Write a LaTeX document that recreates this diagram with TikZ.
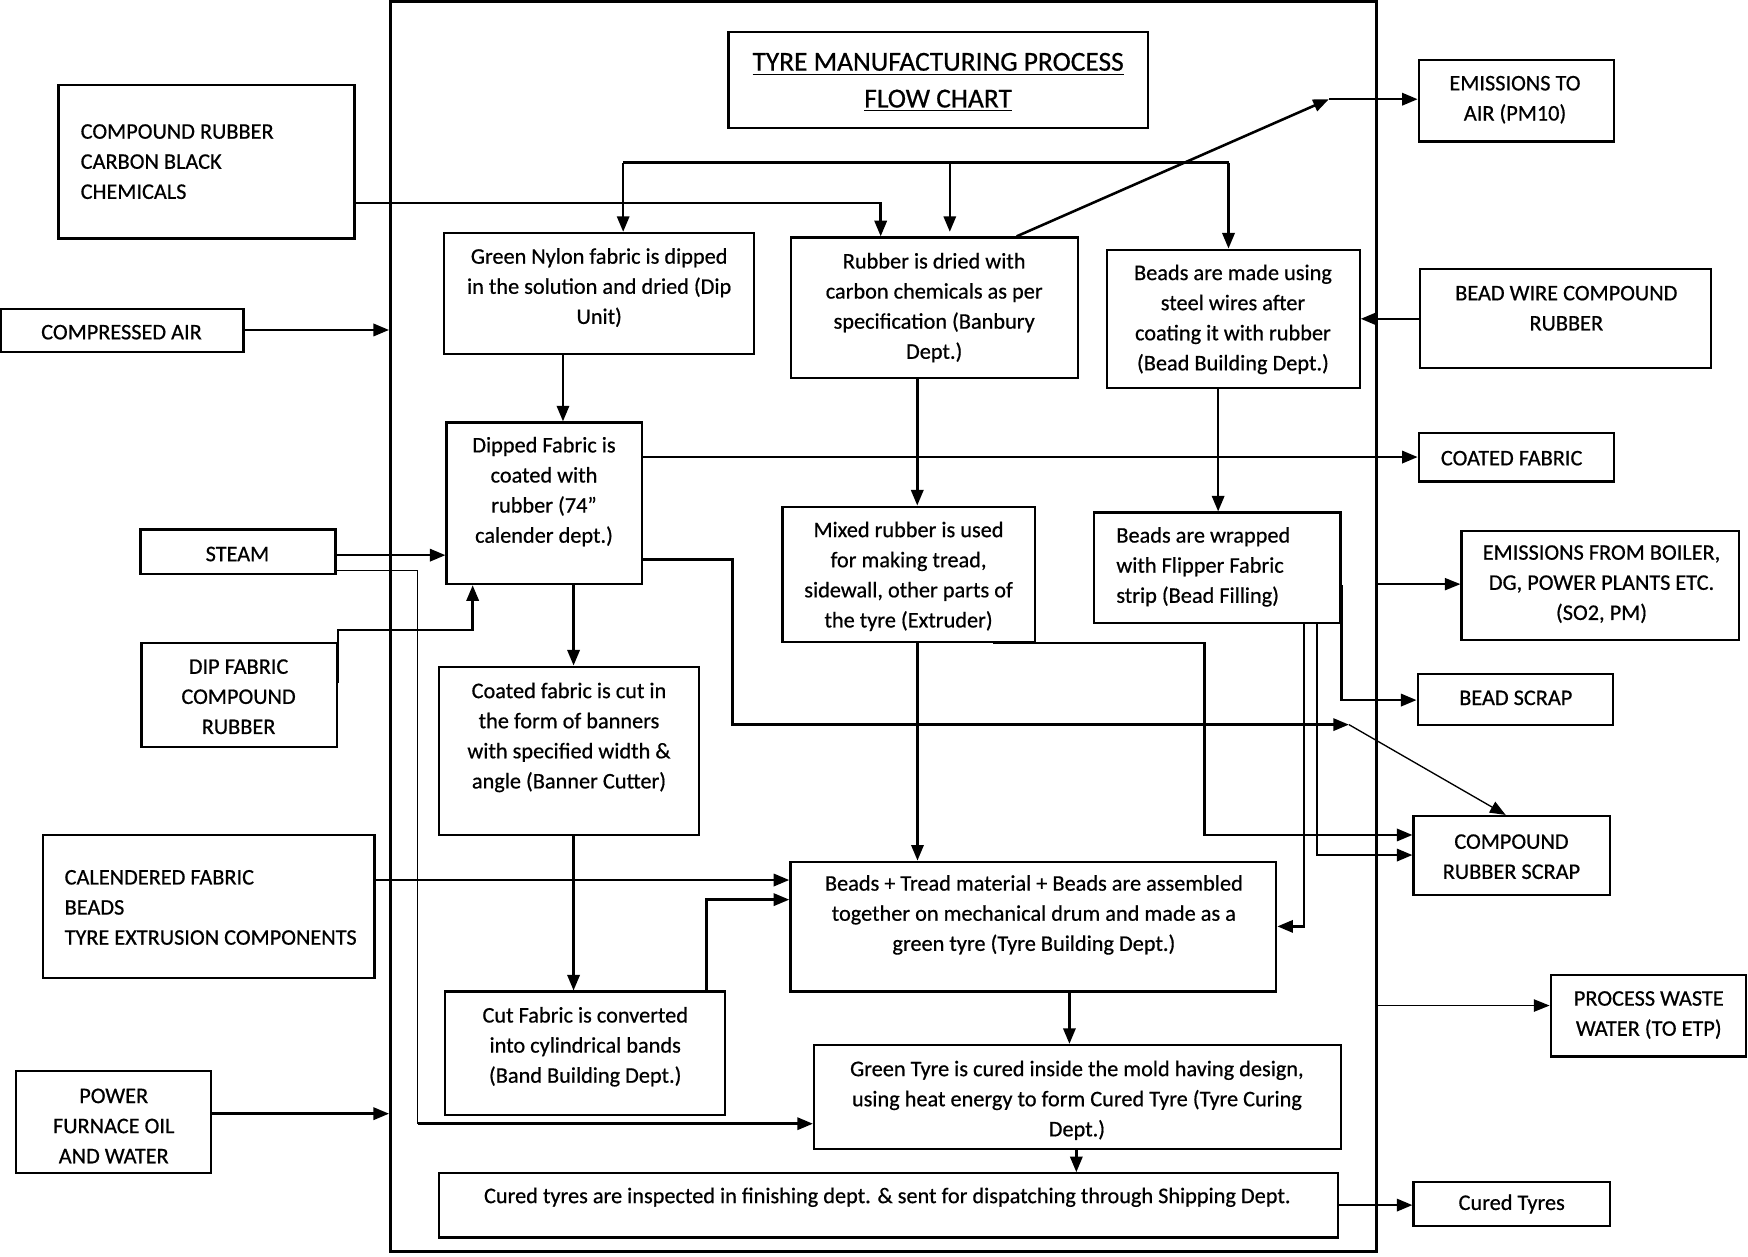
\documentclass[tikz,border=0pt]{standalone}
\usepackage{fontspec}
\setmainfont{Carlito}[FakeBold=0.6]
\usetikzlibrary{arrows.meta,fit}
\begin{document}
\begin{tikzpicture}[x=0.5pt,y=-0.5pt,
  bx/.style={draw=black,line width=1pt,inner sep=0pt},
  txt/.style={font=\fontsize{10}{13.5}\selectfont,align=center,inner sep=0pt},
  ttl/.style={font=\fontsize{12.3}{16.5}\selectfont,align=center,inner sep=0pt},
  con/.style={line width=1.15pt,-{Triangle[length=7pt,width=5.5pt]}},
  ln/.style={line width=1.15pt},
  thinln/.style={line width=0.6pt},
  thincon/.style={line width=0.6pt,-{Triangle[length=7pt,width=5.5pt]}}]
\useasboundingbox (0,0) rectangle (1568,1127);
% main frame and title
\node[bx,line width=1.5pt,fit={(350.5,1.5) (1234.5,1122.7)}] (frame) {};
\node[bx,fit={(653.4,29) (1029.6,115)}] (title) {};
\node[ttl] (titletext) at (841.5,74) {\underline{TYRE MANUFACTURING PROCESS}\\\underline{FLOW CHART}};
% left inputs
\node[bx,fit={(52.5,76) (318,214)}] (crub) {};
\node[txt,align=left,anchor=west] (crubt) at (72,145) {COMPOUND RUBBER\\CARBON BLACK\\CHEMICALS};
\node[bx,fit={(1,277) (218.5,316)}] (cair) {};
\node[txt] (cairt) at (109,298) {COMPRESSED AIR};
\node[bx,fit={(126,475) (301,515)}] (steam) {};
\node[txt] (steamt) at (213,497) {STEAM};
\node[bx,fit={(127,576.5) (302,670)}] (dipf) {};
\node[txt] (dipft) at (214,625) {DIP FABRIC\\COMPOUND\\RUBBER};
\node[bx,fit={(38.4,749) (336,877)}] (calf) {};
\node[txt,align=left,anchor=west] (calft) at (57.6,814) {CALENDERED FABRIC\\BEADS\\TYRE EXTRUSION COMPONENTS};
\node[bx,fit={(14.4,961) (189,1052.5)}] (power) {};
\node[txt] (powert) at (102,1010) {POWER\\FURNACE OIL\\AND WATER};
% right outputs
\node[bx,fit={(1272.7,54) (1447.7,127)}] (emair) {};
\node[txt] (emairt) at (1359,89.5) {EMISSIONS TO\\AIR (PM10)};
\node[bx,fit={(1274,241.6) (1535,330)}] (bwire) {};
\node[txt] (bwiret) at (1405,276.5) {BEAD WIRE COMPOUND\\RUBBER};
\node[bx,fit={(1272.7,388.7) (1447.7,432)}] (coatf) {};
\node[txt] (coatft) at (1356,411) {COATED FABRIC};
\node[bx,fit={(1311,476) (1560,574)}] (emboil) {};
\node[txt] (emboilt) at (1436.6,524) {EMISSIONS FROM BOILER,\\DG, POWER PLANTS ETC.\\(SO2, PM)};
\node[bx,fit={(1271.7,604.6) (1446.6,650)}] (bscrap) {};
\node[txt] (bscrapt) at (1359.7,626) {BEAD SCRAP};
\node[bx,fit={(1268,732) (1444,803)}] (crscrap) {};
\node[txt] (crscrapt) at (1355.8,768.5) {COMPOUND\\RUBBER SCRAP};
\node[bx,fit={(1391,874.6) (1566,947.8)}] (pww) {};
\node[txt] (pwwt) at (1479,910.5) {PROCESS WASTE\\WATER (TO ETP)};
\node[bx,fit={(1268,1060) (1444,1100)}] (cured) {};
\node[txt] (curedt) at (1356,1080) {Cured Tyres};
% process boxes
\node[bx,fit={(398.6,209) (676.4,317.5)}] (dipu) {};
\node[txt] (diput) at (537.5,258) {Green Nylon fabric is dipped\\in the solution and dried (Dip\\Unit)};
\node[bx,fit={(709.3,213) (966.9,339)}] (banb) {};
\node[txt] (banbt) at (838,276) {Rubber is dried with\\carbon chemicals as per\\specification (Banbury\\Dept.)};
\node[bx,fit={(993,224) (1219.6,348)}] (bbld) {};
\node[txt] (bbldt) at (1106,286.5) {Beads are made using\\steel wires after\\coating it with rubber\\(Bead Building Dept.)};
\node[bx,fit={(400.6,379) (575.9,524)}] (cal) {};
\node[txt] (calt) at (488,441) {Dipped Fabric is\\coated with\\rubber (74”\\calender dept.)};
\node[bx,fit={(702,454.5) (928.5,575.6)}] (extr) {};
\node[txt] (extrt) at (815,517) {Mixed rubber is used\\for making tread,\\sidewall, other parts of\\the tyre (Extruder)};
\node[bx,fit={(981.6,459.8) (1202.4,558.6)}] (bfill) {};
\node[txt,align=left,anchor=west] (bfillt) at (1001,508.5) {Beads are wrapped\\with Flipper Fabric\\strip (Bead Filling)};
\node[bx,fit={(393.8,598) (627,749)}] (bcut) {};
\node[txt] (bcutt) at (510.4,661.5) {Coated fabric is cut in\\the form of banners\\with specified width \&\\angle (Banner Cutter)};
\node[bx,fit={(709,773) (1144.8,889.5)}] (tbld) {};
\node[txt] (tbldt) at (927.4,820.7) {Beads + Tread material + Beads are assembled\\together on mechanical drum and made as a\\green tyre (Tyre Building Dept.)};
\node[bx,fit={(399,889.5) (650,1000)}] (band) {};
\node[txt] (bandt) at (525,939) {Cut Fabric is converted\\into cylindrical bands\\(Band Building Dept.)};
\node[bx,fit={(730.2,937.4) (1203,1031)}] (cure) {};
\node[txt] (curet) at (966,987) {Green Tyre is cured inside the mold having design,\\using heat energy to form Cured Tyre (Tyre Curing\\Dept.)};
\node[bx,fit={(393.8,1052.5) (1200.4,1110)}] (insp) {};
\node[txt] (inspt) at (796,1074) {Cured tyres are inspected in finishing dept. \& sent for dispatching through Shipping Dept.};
% free junction points
\coordinate (dl) at (559,146);
\coordinate (dm) at (852,146);
\coordinate (dr) at (1102,146);
\coordinate (ej) at (1192,89);
\coordinate (sj) at (1210,650);
% connectors
\draw[thinln] (crub.east |- 0,182) -- (frame.west |- 0,182);
\draw[con] (frame.west |- 0,182) -- (790,182) -- (790,0 |- banb.north);
\draw[ln] (dl) -- (dr);
\draw[con] (dl) -- (559,0 |- dipu.north);
\draw[con] (dm) -- (852,208);
\draw[con] (dr) -- (1102,0 |- bbld.north);
\draw[con] (912,0 |- banb.north) -- (ej);
\draw[con] (ej) -- (emair.west |- ej);
\draw[con] (bwire.west |- 0,286) -- (bbld.east |- 0,286);
\draw[con] (505,0 |- dipu.south) -- (505,0 |- cal.north);
\draw[con] (822.8,0 |- banb.south) -- (822.8,0 |- extr.north);
\draw[con] (1092.7,0 |- bbld.south) -- (1092.7,0 |- bfill.north);
\draw[con] (cair.east |- 0,296) -- (frame.west |- 0,296);
\draw[con] (cal.east |- 0,410) -- (coatf.west |- 0,410);
\draw[con] (steam.east |- 0,498) -- (cal.west |- 0,498);
\draw[thinln] (steam.east |- 0,512) -- (374.6,512) -- (374.6,1008);
\draw[con] (374.6,1008) -- (cure.west |- 0,1008);
\draw[con] (dipf.east |- 0,613) -- (dipf.east |- 0,565) -- (424,565) -- (424,0 |- cal.south);
\draw[con] (514.5,0 |- cal.south) -- (514.5,0 |- bcut.north);
\draw[con] (cal.east |- 0,502) -- (657,502) -- (657,650) -- (sj);
\draw[thincon] (sj) -- (1350.6,0 |- crscrap.north);
\draw[con] (823,0 |- extr.south) -- (823,0 |- tbld.north);
\draw[con] (890.7,0 |- extr.south) -- (1080.6,0 |- extr.south) -- (1080.6,749) -- (crscrap.west |- 0,749);
\draw[con] (bfill.east |- 0,525) -- (bfill.east |- 0,628) -- (bscrap.west |- 0,628);
\draw[con] (1181.5,0 |- bfill.south) -- (1181.5,767) -- (crscrap.west |- 0,767);
\draw[con] (1169.8,0 |- bfill.south) -- (1169.8,831) -- (tbld.east |- 0,831);
\draw[thincon] (frame.east |- 0,524) -- (emboil.west |- 0,524);
\draw[con] (calf.east |- 0,789.4) -- (tbld.west |- 0,789.4);
\draw[con] (633.5,0 |- band.north) -- (633.5,807) -- (tbld.west |- 0,807);
\draw[con] (514.5,0 |- bcut.south) -- (514.5,0 |- band.north);
\draw[con] (959.3,0 |- tbld.south) -- (959.3,0 |- cure.north);
\draw[con] (965.5,0 |- cure.south) -- (965.5,0 |- insp.north);
\draw[con] (power.east |- 0,999) -- (frame.west |- 0,999);
\draw[con] (insp.east |- 0,1081) -- (cured.west |- 0,1081);
\draw[thincon] (frame.east |- 0,902) -- (pww.west |- 0,902);
\end{tikzpicture}
\end{document}
